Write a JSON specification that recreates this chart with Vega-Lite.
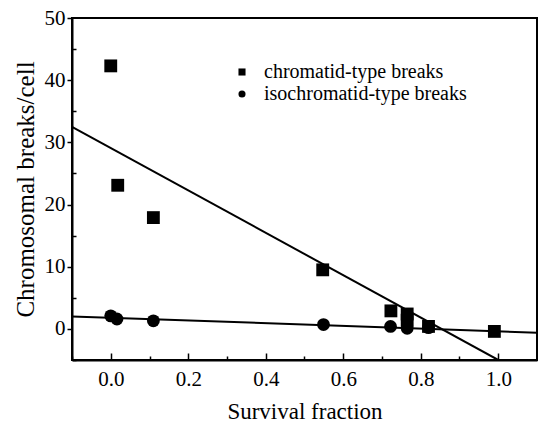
{
  "$schema": "https://vega.github.io/schema/vega-lite/v6.json",
  "width": 465,
  "height": 342,
  "autosize": "none",
  "padding": {"left": 72, "top": 18, "right": 1, "bottom": 63},
  "background": "white",
  "config": {
    "view": {"stroke": "black", "strokeWidth": 2},
    "font": "Liberation Serif",
    "axis": {"grid": false, "domainColor": "black", "domainWidth": 2, "tickColor": "black", "tickWidth": 1.5, "labelColor": "black", "titleColor": "black", "titleFontWeight": "normal", "labelFont": "Liberation Serif", "titleFont": "Liberation Serif"}
  },
  "datasets": {
    "points": [
      {"x": 0.0, "y": 42.3, "type": "chromatid-type breaks"},
      {"x": 0.018, "y": 23.1, "type": "chromatid-type breaks"},
      {"x": 0.11, "y": 17.9, "type": "chromatid-type breaks"},
      {"x": 0.547, "y": 9.5, "type": "chromatid-type breaks"},
      {"x": 0.723, "y": 2.9, "type": "chromatid-type breaks"},
      {"x": 0.765, "y": 2.4, "type": "chromatid-type breaks"},
      {"x": 0.765, "y": 1.4, "type": "chromatid-type breaks"},
      {"x": 0.82, "y": 0.4, "type": "chromatid-type breaks"},
      {"x": 0.99, "y": -0.4, "type": "chromatid-type breaks"},
      {"x": 0.0, "y": 2.1, "type": "isochromatid-type breaks"},
      {"x": 0.016, "y": 1.6, "type": "isochromatid-type breaks"},
      {"x": 0.11, "y": 1.3, "type": "isochromatid-type breaks"},
      {"x": 0.549, "y": 0.7, "type": "isochromatid-type breaks"},
      {"x": 0.722, "y": 0.4, "type": "isochromatid-type breaks"},
      {"x": 0.765, "y": 0.1, "type": "isochromatid-type breaks"},
      {"x": 0.82, "y": 0.2, "type": "isochromatid-type breaks"}
    ],
    "fits": [
      {"x": -0.1, "y": 32.5, "series": "chromatid"},
      {"x": 1.0, "y": -5, "series": "chromatid"},
      {"x": -0.1, "y": 2.0, "series": "isochromatid"},
      {"x": 1.1, "y": -0.6, "series": "isochromatid"}
    ]
  },
  "resolve": {"axis": {"x": "independent", "y": "independent"}},
  "layer": [
    {
      "data": {"name": "fits"},
      "mark": {"type": "line", "color": "black", "strokeWidth": 2, "clip": true},
      "encoding": {
        "x": {"field": "x", "type": "quantitative", "scale": {"domain": [-0.1, 1.1], "nice": false, "zero": false},
          "axis": {"orient": "bottom", "values": [0, 0.2, 0.4, 0.6, 0.8, 1.0], "format": ".1f", "tickSize": -7, "labelFontSize": 21, "labelPadding": 15, "title": "Survival fraction", "titleFontSize": 23, "titlePadding": 11}},
        "y": {"field": "y", "type": "quantitative", "scale": {"domain": [-5, 50], "nice": false, "zero": false},
          "axis": {"orient": "left", "values": [0, 10, 20, 30, 40, 50], "tickSize": 5, "labelFontSize": 21, "labelPadding": 2, "title": "Chromosomal breaks/cell", "titleFontSize": 25, "titlePadding": 6}},
        "detail": {"field": "series"}
      }
    },
    {
      "data": {"name": "points"},
      "mark": {"type": "point", "filled": true, "color": "black", "opacity": 1, "size": 165},
      "encoding": {
        "x": {"field": "x", "type": "quantitative",
          "axis": {"orient": "bottom", "values": [-0.1, 0.1, 0.3, 0.5, 0.7, 0.9, 1.1], "tickSize": -4, "labels": false, "domain": false, "title": null}},
        "y": {"field": "y", "type": "quantitative",
          "axis": {"orient": "left", "values": [-5, 5, 15, 25, 35, 45], "tickSize": -4, "labels": false, "domain": false, "title": null}},
        "shape": {"field": "type", "type": "nominal",
          "scale": {"domain": ["chromatid-type breaks", "isochromatid-type breaks"], "range": ["square", "circle"]},
          "legend": {"title": null, "orient": "none", "legendX": 160, "legendY": 44, "symbolSize": 50, "symbolFillColor": "black", "symbolStrokeColor": "black", "labelFont": "Liberation Serif", "labelFontSize": 20, "labelColor": "black", "labelOffset": 12, "labelLimit": 400, "rowPadding": 2}}
      }
    }
  ]
}
